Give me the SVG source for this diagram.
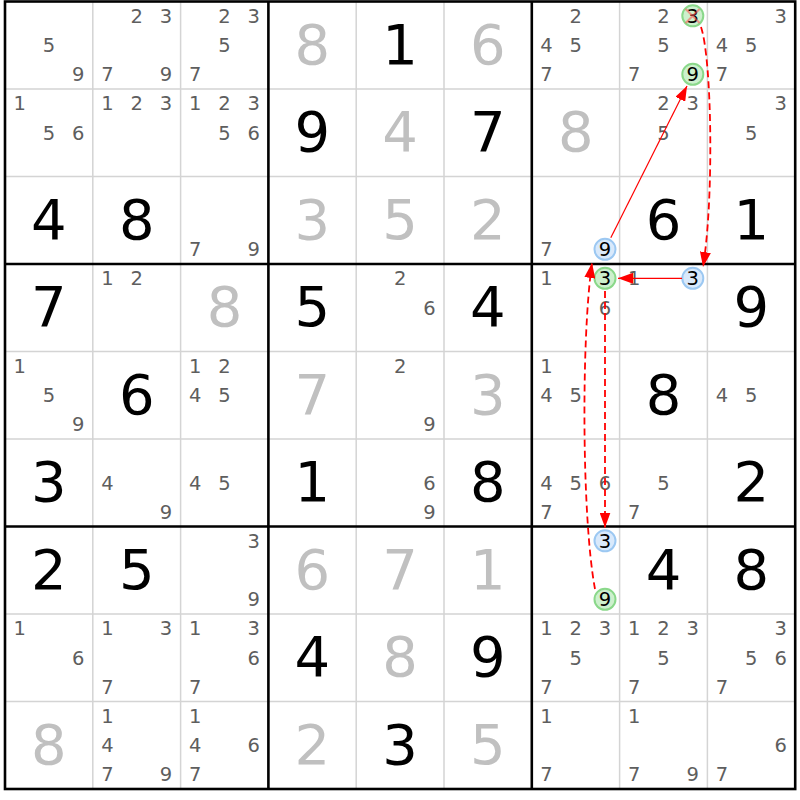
<svg xmlns="http://www.w3.org/2000/svg" width="800" height="800" viewBox="0 0 800 800">
<style>
.c{font-family:"DejaVu Sans",Verdana,sans-serif;font-size:19.5px;fill:#5e5e5e;text-anchor:middle}
.h{fill:#000}
.b{font-family:"DejaVu Sans",Verdana,sans-serif;font-size:56px;fill:#000;text-anchor:middle}
.s{fill:#c0c0c0}
.thin{stroke:#d4d4d4;stroke-width:1.5}
.thick{stroke:#000;stroke-width:2.6}
.gc{fill:#cdf0cd;stroke:#8ad88a;stroke-width:2}
.bc{fill:#d9e9fb;stroke:#9cc8f2;stroke-width:2}
.ln{fill:none;stroke:#ff0000;stroke-width:1.2}
.dl{fill:none;stroke:#ff0000;stroke-width:1.8;stroke-dasharray:7 4}
.x{stroke:#ff5050;stroke-opacity:0.55;stroke-width:2}
</style>
<defs>
<marker id="ah" markerUnits="userSpaceOnUse" markerWidth="15" markerHeight="11" viewBox="0 0 15 11" refX="15" refY="5.5" orient="auto">
<path d="M0,0 L15,5.5 L0,11 z" fill="#ff0000"/>
</marker>
</defs>
<rect width="800" height="800" fill="#fff"/>
<g id="grid">
<path class="thin" d="M92.8,1.5V789M180.6,1.5V789M356.2,1.5V789M444,1.5V789M619.6,1.5V789M707.4,1.5V789M5,89H795.2M5,176.5H795.2M5,351.5H795.2M5,439H795.2M5,614H795.2M5,701.5H795.2"/>
<path class="thick" d="M268.4,1.5V789M531.8,1.5V789M5,264H795.2M5,526.5H795.2"/>
<rect x="5" y="1.5" width="790.2" height="787.5" fill="none" stroke="#000" stroke-width="2.6"/>
</g>
<g id="cells">
<!-- row 0 -->
<g id="r1c1" transform="translate(5,1.5)"><text class="c" x="43.9" y="50.5">5</text><text class="c" x="73.2" y="79.8">9</text></g>
<g id="r1c2" transform="translate(92.8,1.5)"><text class="c" x="43.9" y="21.3">2</text><text class="c" x="73.2" y="21.3">3</text><text class="c" x="14.6" y="79.8">7</text><text class="c" x="73.2" y="79.8">9</text></g>
<g id="r1c3" transform="translate(180.6,1.5)"><text class="c" x="43.9" y="21.3">2</text><text class="c" x="73.2" y="21.3">3</text><text class="c" x="43.9" y="50.5">5</text><text class="c" x="14.6" y="79.8">7</text></g>
<g id="r1c4" transform="translate(268.4,1.5)"><text class="b s" x="43.9" y="62">8</text></g>
<g id="r1c5" transform="translate(356.2,1.5)"><text class="b" x="43.9" y="62">1</text></g>
<g id="r1c6" transform="translate(444,1.5)"><text class="b s" x="43.9" y="62">6</text></g>
<g id="r1c7" transform="translate(531.8,1.5)"><text class="c" x="43.9" y="21.3">2</text><text class="c" x="14.6" y="50.5">4</text><text class="c" x="43.9" y="50.5">5</text><text class="c" x="14.6" y="79.8">7</text></g>
<g id="r1c8" transform="translate(619.6,1.5)"><text class="c" x="43.9" y="21.3">2</text><circle class="gc" cx="73.2" cy="14.3" r="10.5"/><text class="c h" x="73.2" y="21.3">3</text><path class="x" d="M66,7.5L80,21.5M80,7.5L66,21.5"/><text class="c" x="43.9" y="50.5">5</text><text class="c" x="14.6" y="79.8">7</text><circle class="gc" cx="73.2" cy="72.8" r="10.5"/><text class="c h" x="73.2" y="79.8">9</text></g>
<g id="r1c9" transform="translate(707.4,1.5)"><text class="c" x="73.2" y="21.3">3</text><text class="c" x="14.6" y="50.5">4</text><text class="c" x="43.9" y="50.5">5</text><text class="c" x="14.6" y="79.8">7</text></g>
<!-- row 1 -->
<g id="r2c1" transform="translate(5,89)"><text class="c" x="14.6" y="21.3">1</text><text class="c" x="43.9" y="50.5">5</text><text class="c" x="73.2" y="50.5">6</text></g>
<g id="r2c2" transform="translate(92.8,89)"><text class="c" x="14.6" y="21.3">1</text><text class="c" x="43.9" y="21.3">2</text><text class="c" x="73.2" y="21.3">3</text></g>
<g id="r2c3" transform="translate(180.6,89)"><text class="c" x="14.6" y="21.3">1</text><text class="c" x="43.9" y="21.3">2</text><text class="c" x="73.2" y="21.3">3</text><text class="c" x="43.9" y="50.5">5</text><text class="c" x="73.2" y="50.5">6</text></g>
<g id="r2c4" transform="translate(268.4,89)"><text class="b" x="43.9" y="62">9</text></g>
<g id="r2c5" transform="translate(356.2,89)"><text class="b s" x="43.9" y="62">4</text></g>
<g id="r2c6" transform="translate(444,89)"><text class="b" x="43.9" y="62">7</text></g>
<g id="r2c7" transform="translate(531.8,89)"><text class="b s" x="43.9" y="62">8</text></g>
<g id="r2c8" transform="translate(619.6,89)"><text class="c" x="43.9" y="21.3">2</text><text class="c" x="73.2" y="21.3">3</text><text class="c" x="43.9" y="50.5">5</text></g>
<g id="r2c9" transform="translate(707.4,89)"><text class="c" x="73.2" y="21.3">3</text><text class="c" x="43.9" y="50.5">5</text></g>
<!-- row 2 -->
<g id="r3c1" transform="translate(5,176.5)"><text class="b" x="43.9" y="62">4</text></g>
<g id="r3c2" transform="translate(92.8,176.5)"><text class="b" x="43.9" y="62">8</text></g>
<g id="r3c3" transform="translate(180.6,176.5)"><text class="c" x="14.6" y="79.8">7</text><text class="c" x="73.2" y="79.8">9</text></g>
<g id="r3c4" transform="translate(268.4,176.5)"><text class="b s" x="43.9" y="62">3</text></g>
<g id="r3c5" transform="translate(356.2,176.5)"><text class="b s" x="43.9" y="62">5</text></g>
<g id="r3c6" transform="translate(444,176.5)"><text class="b s" x="43.9" y="62">2</text></g>
<g id="r3c7" transform="translate(531.8,176.5)"><text class="c" x="14.6" y="79.8">7</text><circle class="bc" cx="73.2" cy="72.8" r="10.5"/><text class="c h" x="73.2" y="79.8">9</text></g>
<g id="r3c8" transform="translate(619.6,176.5)"><text class="b" x="43.9" y="62">6</text></g>
<g id="r3c9" transform="translate(707.4,176.5)"><text class="b" x="43.9" y="62">1</text></g>
<!-- row 3 -->
<g id="r4c1" transform="translate(5,264)"><text class="b" x="43.9" y="62">7</text></g>
<g id="r4c2" transform="translate(92.8,264)"><text class="c" x="14.6" y="21.3">1</text><text class="c" x="43.9" y="21.3">2</text></g>
<g id="r4c3" transform="translate(180.6,264)"><text class="b s" x="43.9" y="62">8</text></g>
<g id="r4c4" transform="translate(268.4,264)"><text class="b" x="43.9" y="62">5</text></g>
<g id="r4c5" transform="translate(356.2,264)"><text class="c" x="43.9" y="21.3">2</text><text class="c" x="73.2" y="50.5">6</text></g>
<g id="r4c6" transform="translate(444,264)"><text class="b" x="43.9" y="62">4</text></g>
<g id="r4c7" transform="translate(531.8,264)"><text class="c" x="14.6" y="21.3">1</text><circle class="gc" cx="73.2" cy="14.3" r="10.5"/><text class="c h" x="73.2" y="21.3">3</text><text class="c" x="73.2" y="50.5">6</text></g>
<g id="r4c8" transform="translate(619.6,264)"><text class="c" x="14.6" y="21.3">1</text><circle class="bc" cx="73.2" cy="14.3" r="10.5"/><text class="c h" x="73.2" y="21.3">3</text></g>
<g id="r4c9" transform="translate(707.4,264)"><text class="b" x="43.9" y="62">9</text></g>
<!-- row 4 -->
<g id="r5c1" transform="translate(5,351.5)"><text class="c" x="14.6" y="21.3">1</text><text class="c" x="43.9" y="50.5">5</text><text class="c" x="73.2" y="79.8">9</text></g>
<g id="r5c2" transform="translate(92.8,351.5)"><text class="b" x="43.9" y="62">6</text></g>
<g id="r5c3" transform="translate(180.6,351.5)"><text class="c" x="14.6" y="21.3">1</text><text class="c" x="43.9" y="21.3">2</text><text class="c" x="14.6" y="50.5">4</text><text class="c" x="43.9" y="50.5">5</text></g>
<g id="r5c4" transform="translate(268.4,351.5)"><text class="b s" x="43.9" y="62">7</text></g>
<g id="r5c5" transform="translate(356.2,351.5)"><text class="c" x="43.9" y="21.3">2</text><text class="c" x="73.2" y="79.8">9</text></g>
<g id="r5c6" transform="translate(444,351.5)"><text class="b s" x="43.9" y="62">3</text></g>
<g id="r5c7" transform="translate(531.8,351.5)"><text class="c" x="14.6" y="21.3">1</text><text class="c" x="14.6" y="50.5">4</text><text class="c" x="43.9" y="50.5">5</text></g>
<g id="r5c8" transform="translate(619.6,351.5)"><text class="b" x="43.9" y="62">8</text></g>
<g id="r5c9" transform="translate(707.4,351.5)"><text class="c" x="14.6" y="50.5">4</text><text class="c" x="43.9" y="50.5">5</text></g>
<!-- row 5 -->
<g id="r6c1" transform="translate(5,439)"><text class="b" x="43.9" y="62">3</text></g>
<g id="r6c2" transform="translate(92.8,439)"><text class="c" x="14.6" y="50.5">4</text><text class="c" x="73.2" y="79.8">9</text></g>
<g id="r6c3" transform="translate(180.6,439)"><text class="c" x="14.6" y="50.5">4</text><text class="c" x="43.9" y="50.5">5</text></g>
<g id="r6c4" transform="translate(268.4,439)"><text class="b" x="43.9" y="62">1</text></g>
<g id="r6c5" transform="translate(356.2,439)"><text class="c" x="73.2" y="50.5">6</text><text class="c" x="73.2" y="79.8">9</text></g>
<g id="r6c6" transform="translate(444,439)"><text class="b" x="43.9" y="62">8</text></g>
<g id="r6c7" transform="translate(531.8,439)"><text class="c" x="14.6" y="50.5">4</text><text class="c" x="43.9" y="50.5">5</text><text class="c" x="73.2" y="50.5">6</text><text class="c" x="14.6" y="79.8">7</text></g>
<g id="r6c8" transform="translate(619.6,439)"><text class="c" x="43.9" y="50.5">5</text><text class="c" x="14.6" y="79.8">7</text></g>
<g id="r6c9" transform="translate(707.4,439)"><text class="b" x="43.9" y="62">2</text></g>
<!-- row 6 -->
<g id="r7c1" transform="translate(5,526.5)"><text class="b" x="43.9" y="62">2</text></g>
<g id="r7c2" transform="translate(92.8,526.5)"><text class="b" x="43.9" y="62">5</text></g>
<g id="r7c3" transform="translate(180.6,526.5)"><text class="c" x="73.2" y="21.3">3</text><text class="c" x="73.2" y="79.8">9</text></g>
<g id="r7c4" transform="translate(268.4,526.5)"><text class="b s" x="43.9" y="62">6</text></g>
<g id="r7c5" transform="translate(356.2,526.5)"><text class="b s" x="43.9" y="62">7</text></g>
<g id="r7c6" transform="translate(444,526.5)"><text class="b s" x="43.9" y="62">1</text></g>
<g id="r7c7" transform="translate(531.8,526.5)"><circle class="bc" cx="73.2" cy="14.3" r="10.5"/><text class="c h" x="73.2" y="21.3">3</text><circle class="gc" cx="73.2" cy="72.8" r="10.5"/><text class="c h" x="73.2" y="79.8">9</text></g>
<g id="r7c8" transform="translate(619.6,526.5)"><text class="b" x="43.9" y="62">4</text></g>
<g id="r7c9" transform="translate(707.4,526.5)"><text class="b" x="43.9" y="62">8</text></g>
<!-- row 7 -->
<g id="r8c1" transform="translate(5,614)"><text class="c" x="14.6" y="21.3">1</text><text class="c" x="73.2" y="50.5">6</text></g>
<g id="r8c2" transform="translate(92.8,614)"><text class="c" x="14.6" y="21.3">1</text><text class="c" x="73.2" y="21.3">3</text><text class="c" x="14.6" y="79.8">7</text></g>
<g id="r8c3" transform="translate(180.6,614)"><text class="c" x="14.6" y="21.3">1</text><text class="c" x="73.2" y="21.3">3</text><text class="c" x="73.2" y="50.5">6</text><text class="c" x="14.6" y="79.8">7</text></g>
<g id="r8c4" transform="translate(268.4,614)"><text class="b" x="43.9" y="62">4</text></g>
<g id="r8c5" transform="translate(356.2,614)"><text class="b s" x="43.9" y="62">8</text></g>
<g id="r8c6" transform="translate(444,614)"><text class="b" x="43.9" y="62">9</text></g>
<g id="r8c7" transform="translate(531.8,614)"><text class="c" x="14.6" y="21.3">1</text><text class="c" x="43.9" y="21.3">2</text><text class="c" x="73.2" y="21.3">3</text><text class="c" x="43.9" y="50.5">5</text><text class="c" x="14.6" y="79.8">7</text></g>
<g id="r8c8" transform="translate(619.6,614)"><text class="c" x="14.6" y="21.3">1</text><text class="c" x="43.9" y="21.3">2</text><text class="c" x="73.2" y="21.3">3</text><text class="c" x="43.9" y="50.5">5</text><text class="c" x="14.6" y="79.8">7</text></g>
<g id="r8c9" transform="translate(707.4,614)"><text class="c" x="73.2" y="21.3">3</text><text class="c" x="43.9" y="50.5">5</text><text class="c" x="73.2" y="50.5">6</text><text class="c" x="14.6" y="79.8">7</text></g>
<!-- row 8 -->
<g id="r9c1" transform="translate(5,701.5)"><text class="b s" x="43.9" y="62">8</text></g>
<g id="r9c2" transform="translate(92.8,701.5)"><text class="c" x="14.6" y="21.3">1</text><text class="c" x="14.6" y="50.5">4</text><text class="c" x="14.6" y="79.8">7</text><text class="c" x="73.2" y="79.8">9</text></g>
<g id="r9c3" transform="translate(180.6,701.5)"><text class="c" x="14.6" y="21.3">1</text><text class="c" x="14.6" y="50.5">4</text><text class="c" x="73.2" y="50.5">6</text><text class="c" x="14.6" y="79.8">7</text></g>
<g id="r9c4" transform="translate(268.4,701.5)"><text class="b s" x="43.9" y="62">2</text></g>
<g id="r9c5" transform="translate(356.2,701.5)"><text class="b" x="43.9" y="62">3</text></g>
<g id="r9c6" transform="translate(444,701.5)"><text class="b s" x="43.9" y="62">5</text></g>
<g id="r9c7" transform="translate(531.8,701.5)"><text class="c" x="14.6" y="21.3">1</text><text class="c" x="14.6" y="79.8">7</text></g>
<g id="r9c8" transform="translate(619.6,701.5)"><text class="c" x="14.6" y="21.3">1</text><text class="c" x="14.6" y="79.8">7</text><text class="c" x="73.2" y="79.8">9</text></g>
<g id="r9c9" transform="translate(707.4,701.5)"><text class="c" x="73.2" y="50.5">6</text><text class="c" x="14.6" y="79.8">7</text></g>
</g>
<g id="connectors">
<path class="ln" d="M610.8,237.7L687,85.9" marker-end="url(#ah)"/>
<path class="dl" d="M701,27C712,60 714,200 703,267" marker-end="url(#ah)"/>
<path class="ln" d="M682,278.3L618,278.3" marker-end="url(#ah)"/>
<path class="dl" d="M605,291L605,527.5" marker-end="url(#ah)"/>
<path class="dl" d="M595,589C582,520 581,340 592,263" marker-end="url(#ah)"/>
</g>
</svg>
